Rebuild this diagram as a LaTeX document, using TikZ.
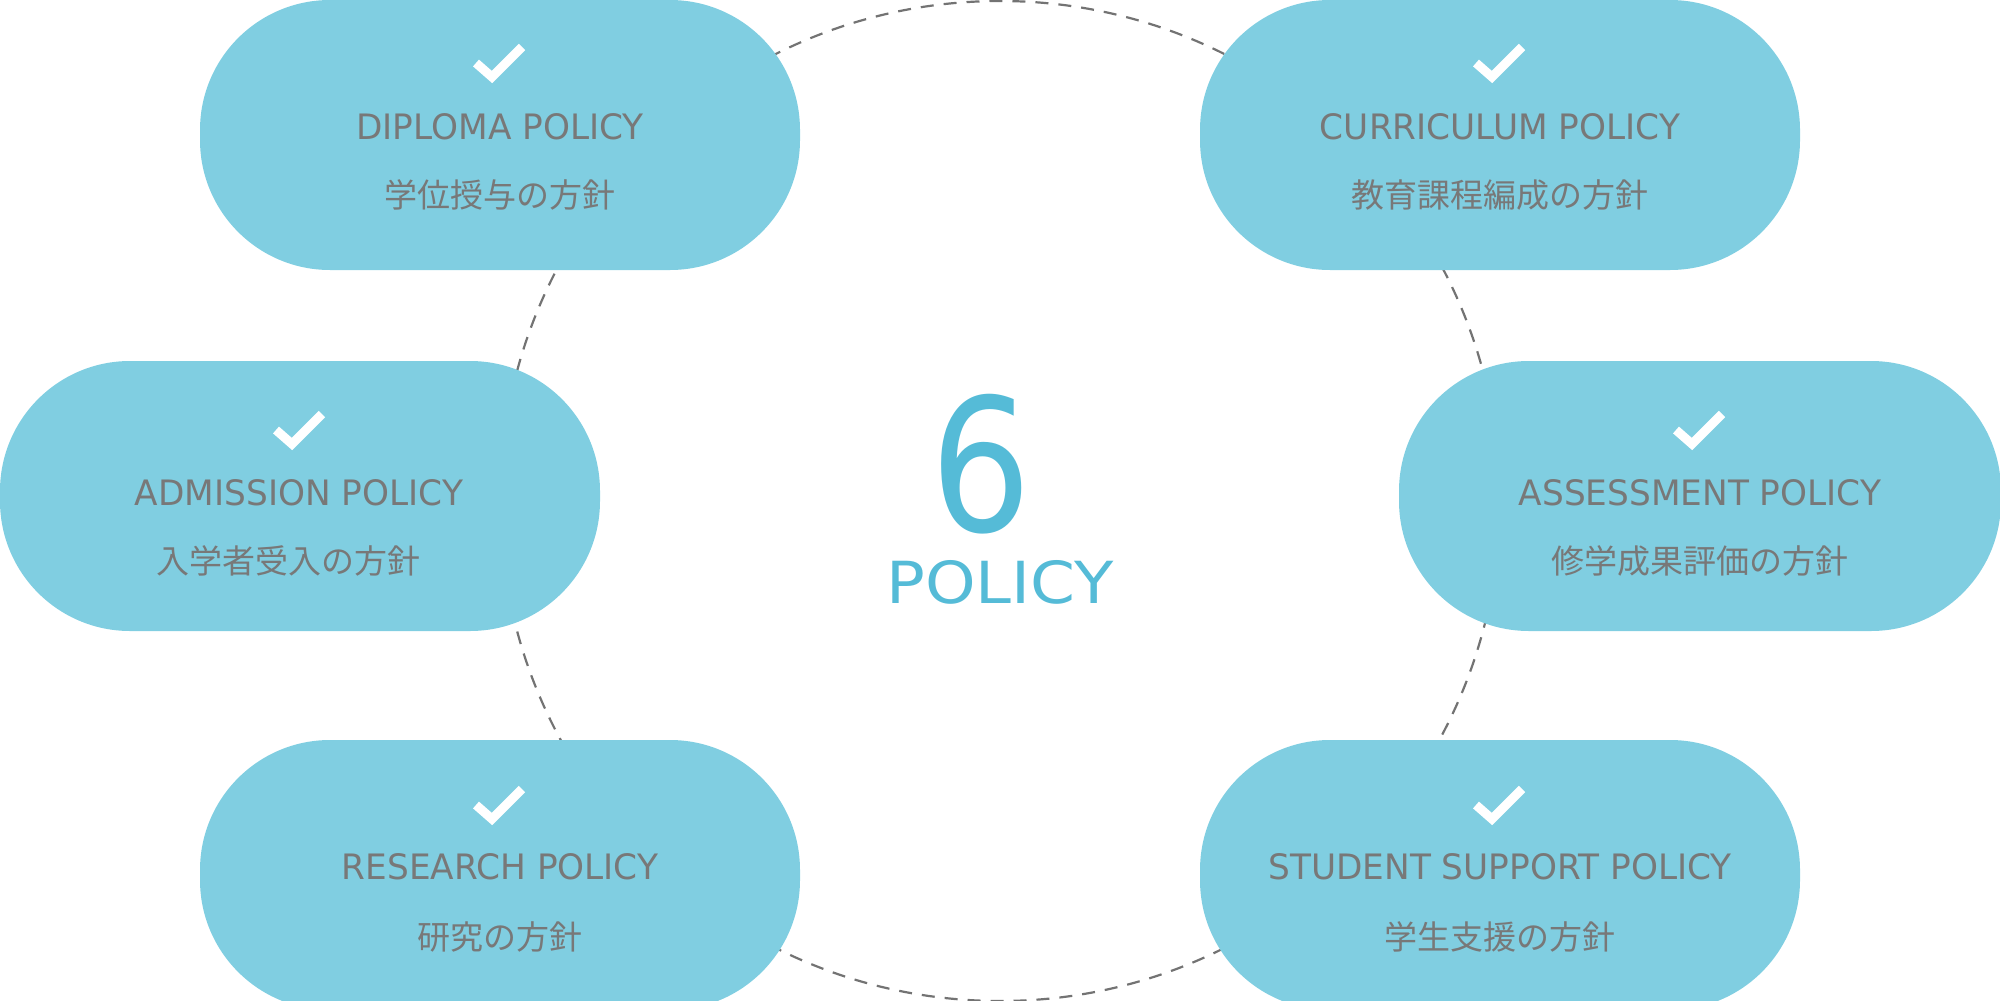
\documentclass[tikz,border=0pt]{standalone}
\usepackage{fontspec}
\newfontfamily\latf[FakeStretch=0.98]{DejaVu Sans}
\newfontfamily\jpf{Noto Sans CJK JP}
\newfontfamily\sixf[FakeStretch=0.86]{DejaVu Sans}
\newfontfamily\polf[FakeStretch=1.11]{DejaVu Sans}
\definecolor{pill}{RGB}{128,206,225}
\definecolor{txt}{RGB}{120,120,120}
\definecolor{ctr}{RGB}{85,187,215}
\definecolor{dashc}{RGB}{115,115,115}
\begin{document}
\begin{tikzpicture}[x=1pt,y=-1pt,
  pillbox/.style={fill=pill, draw=none, rounded corners=130pt, minimum width=600pt, minimum height=270pt, inner sep=0pt},
  title/.style={font=\latf\fontsize{35}{40}\selectfont, text=txt, inner sep=0pt, anchor=base},
  jp/.style={font=\jpf\fontsize{33}{37}\selectfont, text=txt, inner sep=0pt},
  chk/.pic={\draw[white, line width=9pt, miter limit=10] (-24,1) -- (-8,15) -- (22,-15);}
]
\useasboundingbox (0,0) rectangle (2000,1001);
\clip (0,0) rectangle (2000,1001);

% dashed ring
\draw[dashc, line width=2.2pt, dash pattern=on 13pt off 10pt] (1000,501) circle[radius=500];

% pills
\node[pillbox] (dp) at (500,135) {};
\node[pillbox] (cp) at (1500,135) {};
\node[pillbox] (ap) at (300,496) {};
\node[pillbox, minimum width=602pt] (sp) at (1700,496) {};
\node[pillbox] (rp) at (500,875) {};
\node[pillbox] (ssp) at (1500,875) {};

% check marks
\pic at (500,62) {chk};
\pic at (1500,62) {chk};
\pic at (300,429) {chk};
\pic at (1700,429) {chk};
\pic at (500,804) {chk};
\pic at (1500,804) {chk};

% titles
\node[title] (dpt) at (500,139) {DIPLOMA POLICY};
\node[title] (cpt) at (1500,139) {CURRICULUM POLICY};
\node[title] (apt) at (299,505) {ADMISSION POLICY};
\node[title] (spt) at (1700,505) {ASSESSMENT POLICY};
\node[title] (rpt) at (500,879) {RESEARCH POLICY};
\node[title] (sspt) at (1500,879) {STUDENT SUPPORT POLICY};

% japanese
\node[jp] (dpj) at (500,195) {学位授与の方針};
\node[jp] (cpj) at (1500,195) {教育課程編成の方針};
\node[jp] (apj) at (288,561) {入学者受入の方針};
\node[jp] (spj) at (1700,561) {修学成果評価の方針};
\node[jp] (rpj) at (500,937) {研究の方針};
\node[jp] (sspj) at (1500,937) {学生支援の方針};

% centre
\node[font=\sixf\fontsize{185}{200}\selectfont, text=ctr, inner sep=0pt, anchor=base] (six) at (981,531) {6};
\node[font=\polf\fontsize{58}{64}\selectfont, text=ctr, inner sep=0pt, anchor=base] (pol) at (1000,603) {POLICY};
\end{tikzpicture}
\end{document}
